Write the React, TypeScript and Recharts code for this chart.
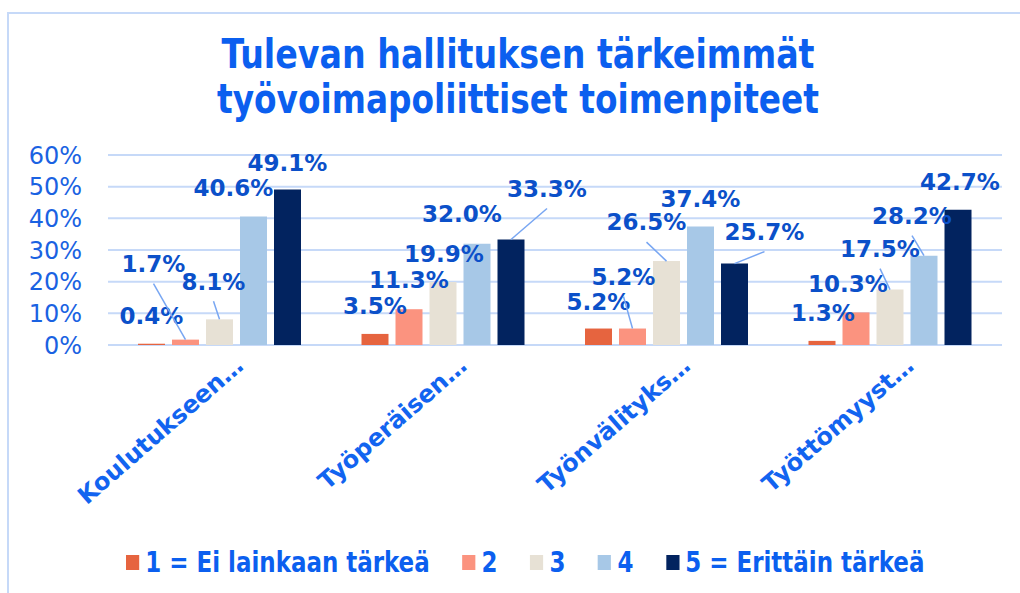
import React from 'react';
import { BarChart, Bar, XAxis, YAxis, CartesianGrid, LabelList, Legend } from 'recharts';

// ---- data ----
const categories = ['Koulutukseen…', 'Työperäisen…', 'Työnvälityks…', 'Työttömyyst…'];
const seriesNames = ['1 = Ei lainkaan tärkeä', '2', '3', '4', '5 = Erittäin tärkeä'];
const series1 = [0.4, 3.5, 5.2, 1.3];
const series2 = [1.7, 11.3, 5.2, 10.3];
const series3 = [8.1, 19.9, 26.5, 17.5];
const series4 = [40.6, 32.0, 37.4, 28.2];
const series5 = [49.1, 33.3, 25.7, 42.7];
const yTicks = [0, 10, 20, 30, 40, 50, 60];
const titleLines = ['Tulevan hallituksen tärkeimmät', 'työvoimapoliittiset toimenpiteet'];

// ---- styling / layout ----
const colors = ['#e6643f', '#fb937f', '#e7e1d5', '#a7c8e7', '#02235f'];
const keys = ['v1', 'v2', 'v3', 'v4', 'v5'];
const allSeries = [series1, series2, series3, series4, series5];
// label placement relative to bar top centre: [dx, dy, leader]
const labelPlacement: [number, number, boolean][][] = [
  [[0, -28, false], [0, -28, false], [0, -27, false], [1, -28, false]],
  [[-32, -76, true], [0, -29, false], [-9, -52, true], [-8, -29, false]],
  [[-6, -38, true], [1, -28, false], [-20, -39, true], [-10, -41, true]],
  [[-20, -29, false], [-15, -30, false], [0, -28, false], [-12, -40, true]],
  [[0, -27, false], [36, -51, true], [30, -32, true], [2, -28, false]],
];

const data = categories.map((name, i) => {
  const row: any = { name };
  allSeries.forEach((s, k) => (row[keys[k]] = s[i]));
  return row;
});

const BLUE = '#0b5fef';
const LABEL_BLUE = '#0b50c9';
const GRID = '#c6d9f8';
const NARROW = "'Liberation Sans Narrow', 'DejaVu Sans Condensed', 'Arial Narrow', sans-serif";

function makeLabel(seriesIdx: number) {
  return (props: any) => {
    const { x, y, width, value, index } = props;
    const p = labelPlacement[seriesIdx][index];
    const cx = Number(x) + Number(width) / 2;
    const top = Number(y);
    const lx = cx + p[0];
    const ly = top + p[1];
    return (
      <g>
        {p[2] && (
          <line x1={lx} y1={ly + 20} x2={cx} y2={top} stroke="#78a6f2" strokeWidth={1.5} />
        )}
        <text
          x={lx}
          y={ly}
          dy="0.36em"
          textAnchor="middle"
          fill={LABEL_BLUE}
          fontFamily="'DejaVu Sans', sans-serif"
          fontWeight="bold"
          fontSize={23}
        >
          {Number(value).toFixed(1)}%
        </text>
      </g>
    );
  };
}

const XTick = (props: any) => {
  const { x, payload } = props;
  return (
    <text
      transform={`translate(${x + 25},368) rotate(-41)`}
      textAnchor="end"
      fill="#1264f0"
      fontFamily="'DejaVu Sans', sans-serif"
      fontWeight="bold"
      fontSize={24}
    >
      {payload.value}
    </text>
  );
};

const LegendContent = () => (
  <div style={{ height: 0, overflow: 'visible', position: 'relative' }}>
    <div
      style={{
        position: 'absolute',
        left: 0,
        top: 0,
        display: 'flex',
        alignItems: 'center',
        fontFamily: NARROW,
        fontWeight: 'bold',
        fontSize: 29,
        color: BLUE,
        whiteSpace: 'nowrap',
        lineHeight: '30px',
        transform: 'scaleX(0.88)',
        transformOrigin: '0 0',
      }}
    >
      {seriesNames.map((n, i) => (
        <div key={n} style={{ display: 'flex', alignItems: 'center', marginRight: i < 4 ? 37 : 0 }}>
          <span style={{ width: 15, height: 15, background: colors[i], display: 'inline-block', marginRight: 7 }} />
          <span>{n}</span>
        </div>
      ))}
    </div>
  </div>
);

export default function App() {
  return (
    <div style={{ position: 'absolute', left: 0, top: 0, width: 1020, height: 593, overflow: 'hidden', background: '#fff' }}>
      <div
        style={{
          position: 'absolute',
          left: 7,
          top: 12,
          width: 1100,
          height: 700,
          borderTop: `2px solid ${GRID}`,
          borderLeft: `2px solid ${GRID}`,
        }}
      />
      <svg width={1020} height={140} style={{ position: 'absolute', left: 0, top: 0 }}>
        {titleLines.map((t, i) => (
          <text
            key={t}
            x={518}
            y={68 + i * 45}
            textAnchor="middle"
            fill={BLUE}
            fontFamily={NARROW}
            fontWeight="bold"
            fontSize={40}
            textLength={i === 0 ? 593 : 602}
            lengthAdjust="spacingAndGlyphs"
          >
            {t}
          </text>
        ))}
      </svg>
      <div style={{ position: 'absolute', left: 0, top: 0 }}>
        <BarChart
          width={1020}
          height={593}
          data={data}
          margin={{ top: 155, right: 18, left: 0, bottom: 48 }}
          barSize={27}
          barGap={7}
        >
          <CartesianGrid vertical={false} stroke={GRID} strokeWidth={2} />
          <XAxis dataKey="name" axisLine={false} tickLine={false} height={200} tick={<XTick />} interval={0} />
          <YAxis
            width={108}
            domain={[0, 60]}
            ticks={yTicks}
            interval={0}
            axisLine={false}
            tickLine={false}
            tickSize={0}
            tickMargin={26}
            tickFormatter={(v: number) => `${v}%`}
            tick={{ fill: '#1a62e2', fontSize: 24, fontFamily: "'DejaVu Sans', sans-serif" }}
          />
          <Legend
            content={<LegendContent />}
            wrapperStyle={{ left: 126, top: 547, width: 900, height: 0 }}
          />
          {keys.map((k, i) => (
            <Bar key={k} dataKey={k} name={seriesNames[i]} fill={colors[i]} isAnimationActive={false}>
              <LabelList dataKey={k} content={makeLabel(i)} />
            </Bar>
          ))}
        </BarChart>
      </div>
    </div>
  );
}
